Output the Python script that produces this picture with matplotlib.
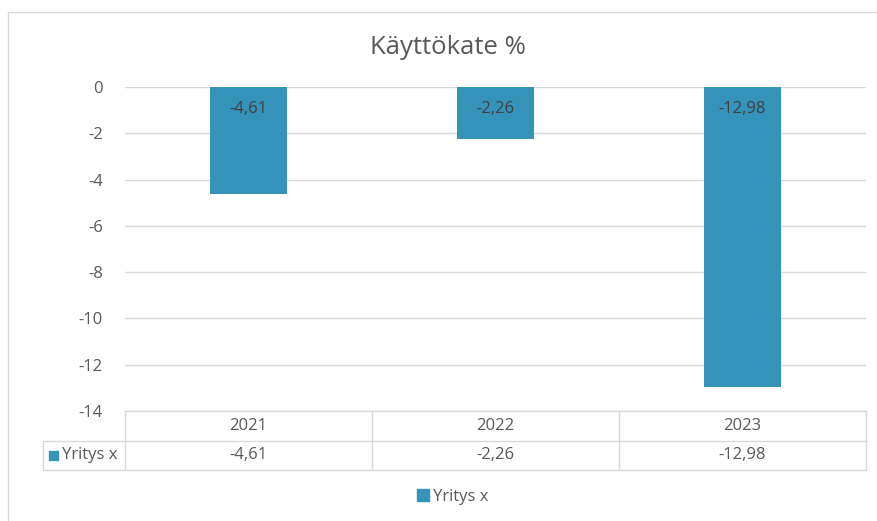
import matplotlib
matplotlib.use("Agg")
import matplotlib.pyplot as plt
from matplotlib.patches import Rectangle
from matplotlib.lines import Line2D
import matplotlib.transforms as mtransforms

# data
years = ["2021", "2022", "2023"]
values = [-4.61, -2.26, -12.98]
series_name = "Yritys x"
title = "Käyttökate %"

bar_color = "#3593BA"
text_color = "#595959"
grid_color = "#D9D9D9"

plt.rcParams["font.family"] = ["Open Sans", "DejaVu Sans"]
fs = 12

W, H = 878, 521
fig = plt.figure(figsize=(W / 100, H / 100), dpi=100)

# outer chart border
fig.patches.append(Rectangle((8 / W, -0.05), 1.0, (H - 12) / H + 0.05,
                             transform=fig.transFigure, fill=False,
                             edgecolor=grid_color, linewidth=1.0))

ax_l, ax_r, ax_t, ax_b = 125, 866, 87, 411
ax = fig.add_axes([ax_l / W, 1 - ax_b / H, (ax_r - ax_l) / W, (ax_b - ax_t) / H])

x = range(len(years))
ax.bar(x, values, width=0.315, color=bar_color, zorder=2)
ax.set_xlim(-0.5, len(years) - 0.5)
ax.set_ylim(-14, 0)
ax.set_yticks(range(-14, 1, 2))
ax.set_yticklabels([str(v) for v in range(-14, 1, 2)])
ax.yaxis.grid(True, color=grid_color, linewidth=1.0, zorder=0)
ax.set_xticks([])
for s in ax.spines.values():
    s.set_visible(False)
ax.tick_params(axis="y", length=0, pad=16, labelsize=fs, labelcolor=text_color)

# data labels inside bars
for xi, v in zip(x, values):
    ax.annotate(f"{v:.2f}".replace(".", ","), (xi, 0), xytext=(0, -16),
                textcoords="offset points", ha="center", va="center",
                fontsize=fs, color="#404040", zorder=3)

fig.text(448 / W, 1 - 47 / H, title, ha="center", va="center",
         fontsize=18.5, color=text_color)

# data table below the axis
row_h = 29.5 / (ax_b - ax_t)
left_col = (43 - ax_l) / (ax_r - ax_l)
tr = ax.transAxes
lkw = dict(color=grid_color, linewidth=1.0, transform=tr, clip_on=False)
ax.add_line(Line2D([0, 1], [0, 0], **lkw))
ax.add_line(Line2D([left_col, 1], [-row_h, -row_h], **lkw))
ax.add_line(Line2D([left_col, 1], [-2 * row_h, -2 * row_h], **lkw))
ax.add_line(Line2D([left_col, left_col], [-row_h, -2 * row_h], **lkw))
n = len(years)
for i in range(n + 1):
    xf = i / n
    ax.add_line(Line2D([xf, xf], [0, -2 * row_h], **lkw))

blend = mtransforms.blended_transform_factory(ax.transData, ax.transAxes)
for xi, yr, v in zip(x, years, values):
    ax.text(xi, -0.5 * row_h, yr, transform=blend, ha="center", va="center",
            fontsize=fs, color=text_color)
    ax.text(xi, -1.5 * row_h, f"{v:.2f}".replace(".", ","), transform=blend,
            ha="center", va="center", fontsize=fs, color=text_color)

# series key in table
ax.add_patch(Rectangle((left_col + 0.0085, -1.5 * row_h - 0.016), 0.0115, 0.03,
                       transform=tr, color=bar_color, clip_on=False))
ax.text(left_col + 0.025, -1.5 * row_h, series_name, transform=tr,
        ha="left", va="center", fontsize=fs, color=text_color)

# legend
handle = Line2D([], [], marker="s", linestyle="none", markersize=8,
                color=bar_color)
fig.legend([handle], [series_name], loc="center",
           bbox_to_anchor=(452 / W, 1 - 497 / H), frameon=False,
           fontsize=fs, labelcolor=text_color, handletextpad=0.1,
           handlelength=1.0)

fig.savefig("out.png", dpi=100)
